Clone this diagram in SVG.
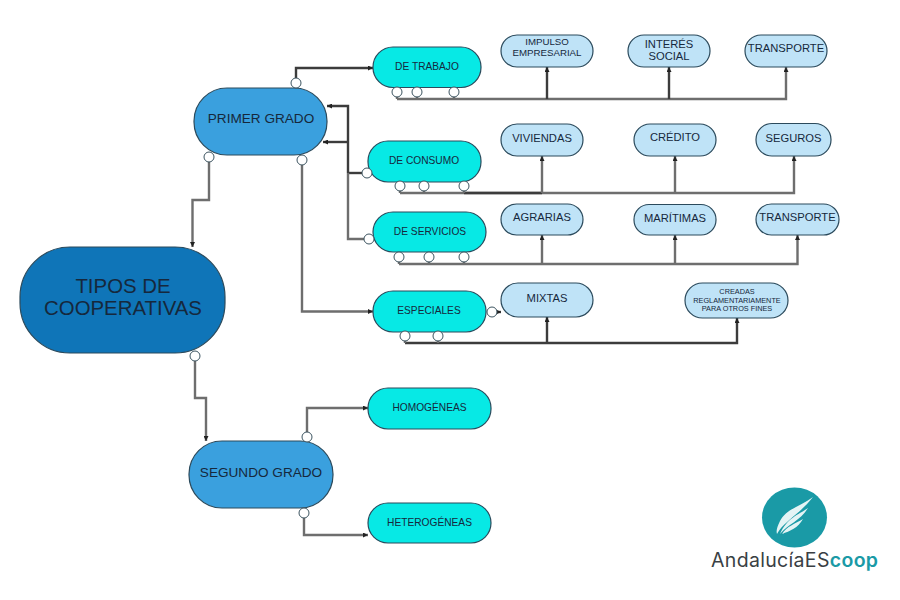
<svg xmlns="http://www.w3.org/2000/svg" width="900" height="600" viewBox="0 0 900 600">
<style>
text{font-family:"Liberation Sans",Arial,sans-serif;text-anchor:middle;fill:#16283c}
.n{stroke:#2b4a5c;stroke-width:1.2}
.root{fill:#0f75b8}
.mid{fill:#3aa0de}
.cy{fill:#07e9e5}
.lt{fill:#bfe3f7}
.c{fill:none;stroke:#6e6e6e;stroke-width:2.4}
.d{stroke:#3c3c3c}
.a{marker-end:url(#ah)}
.p{fill:#fff;stroke:#3c5460;stroke-width:1}
.s10{font-size:10.200px}
.s11{font-size:11.200px}
.logo{text-anchor:start;font-family:Inter,"Open Sans",sans-serif;font-size:19.500px}
.w{fill:#e4f4f5}
</style>
<defs>
<marker id="ah" markerUnits="userSpaceOnUse" markerWidth="6" markerHeight="5" refX="5" refY="2.500" orient="auto"><path d="M0 0L5 2.500L0 5Z" fill="#222"/></marker>
</defs>
<rect width="900" height="600" fill="#fff"/>
<g id="connectors">
<path class="c d a" d="M296 78V68H373"/>
<path class="c a" d="M209 162V200H192.500V247"/>
<path class="c d a" d="M348 173V106H327"/>
<path class="c d a" d="M348 142H323"/>
<path class="c d" d="M362 173H348"/>
<path class="c" d="M364 239H348V173"/>
<path class="c a" d="M302 165V311.500H373"/>
<path class="c a" d="M195 361V398H206V441"/>
<path class="c a" d="M307 432V408H368"/>
<path class="c a" d="M304 518V535H368"/>
<path class="c a" d="M397 99H786V67"/>
<path class="c d a" d="M547 99V67"/>
<path class="c d a" d="M669 99V67"/>
<path class="c" d="M397 92V99M417 92V99M454 92V99"/>
<path class="c a" d="M400 193H794V156"/>
<path class="c d" d="M464 193H542"/>
<path class="c a" d="M542 193V156"/>
<path class="c a" d="M675 193V156"/>
<path class="c" d="M400 186V193M424 186V193M464 186V193"/>
<path class="c a" d="M399 264H797.500V235"/>
<path class="c a" d="M542 264V235"/>
<path class="c a" d="M675 264V235"/>
<path class="c" d="M399 257V264M429 257V264M464 257V264"/>
<path class="c d a" d="M405 343H737V318"/>
<path class="c d a" d="M547 343V317"/>
<path class="c" d="M405 336V343M438 336V343"/>
<path class="c d a" d="M497 312H501"/>
</g>
<g id="tipos"><rect class="n root" x="20" y="247" width="205" height="106" rx="50"/><text x="123" y="293" font-size="20.400">TIPOS DE</text><text x="123" y="315" font-size="20.400">COOPERATIVAS</text><circle class="p" cx="195" cy="356" r="5"/></g>
<g id="primer-grado"><rect class="n mid" x="194" y="88" width="133" height="67" rx="33"/><text x="261" y="123" font-size="13.600">PRIMER GRADO</text><circle class="p" cx="296" cy="83" r="5"/><circle class="p" cx="209" cy="157" r="5"/><circle class="p" cx="302" cy="160" r="5"/></g>
<g id="segundo-grado"><rect class="n mid" x="189" y="441" width="144" height="67" rx="33"/><text x="261" y="477" font-size="13.600">SEGUNDO GRADO</text><circle class="p" cx="307" cy="437" r="5"/><circle class="p" cx="304" cy="513" r="5"/></g>
<g id="de-trabajo"><rect class="n cy" x="373" y="47" width="108" height="40.500" rx="20"/><text class="s10" x="427" y="70">DE TRABAJO</text><circle class="p" cx="397" cy="92" r="5"/><circle class="p" cx="417" cy="92" r="5"/><circle class="p" cx="454" cy="92" r="5"/></g>
<g id="de-consumo"><rect class="n cy" x="368" y="141" width="113" height="41" rx="20"/><text class="s10" x="424" y="164">DE CONSUMO</text><circle class="p" cx="367" cy="173" r="5"/><circle class="p" cx="400" cy="186" r="5"/><circle class="p" cx="424" cy="186" r="5"/><circle class="p" cx="464" cy="186" r="5"/></g>
<g id="de-servicios"><rect class="n cy" x="373" y="212" width="113" height="40" rx="20"/><text class="s10" x="430" y="235">DE SERVICIOS</text><circle class="p" cx="369" cy="239" r="5"/><circle class="p" cx="399" cy="257" r="5"/><circle class="p" cx="429" cy="257" r="5"/><circle class="p" cx="464" cy="257" r="5"/></g>
<g id="especiales"><rect class="n cy" x="373" y="291" width="113" height="41" rx="20"/><text class="s10" x="429" y="314">ESPECIALES</text><circle class="p" cx="492" cy="312" r="5"/><circle class="p" cx="405" cy="336" r="5"/><circle class="p" cx="438" cy="336" r="5"/></g>
<g id="homogeneas"><rect class="n cy" x="368" y="388" width="123" height="41" rx="20"/><text class="s10" x="429.500" y="411">HOMOGÉNEAS</text></g>
<g id="heterogeneas"><rect class="n cy" x="368" y="503" width="123" height="40" rx="20"/><text class="s10" x="429.500" y="526">HETEROGÉNEAS</text></g>
<g id="impulso"><rect class="n lt" x="501" y="35" width="92" height="32" rx="16"/><text x="547" y="45" font-size="9.700">IMPULSO</text><text x="547" y="55.500" font-size="9.700">EMPRESARIAL</text></g>
<g id="interes"><rect class="n lt" x="628" y="35" width="82" height="32" rx="16"/><text class="s11" x="669" y="48">INTERÉS</text><text class="s11" x="669" y="60">SOCIAL</text></g>
<g id="transporte-1"><rect class="n lt" x="745" y="35" width="82" height="32" rx="16"/><text class="s11" x="786" y="52">TRANSPORTE</text></g>
<g id="viviendas"><rect class="n lt" x="501" y="124" width="82" height="32" rx="16"/><text class="s11" x="542" y="142">VIVIENDAS</text></g>
<g id="credito"><rect class="n lt" x="634" y="124" width="82" height="32" rx="16"/><text class="s11" x="675" y="141">CRÉDITO</text></g>
<g id="seguros"><rect class="n lt" x="756" y="123.500" width="75" height="32.500" rx="16"/><text class="s11" x="793.500" y="142">SEGUROS</text></g>
<g id="agrarias"><rect class="n lt" x="501" y="204" width="82" height="31" rx="15.500"/><text class="s11" x="542" y="221">AGRARIAS</text></g>
<g id="maritimas"><rect class="n lt" x="634" y="204.500" width="82" height="30.500" rx="15"/><text class="s11" x="675" y="222">MARÍTIMAS</text></g>
<g id="transporte-2"><rect class="n lt" x="756" y="204" width="83" height="31" rx="15.500"/><text class="s11" x="797.500" y="221">TRANSPORTE</text></g>
<g id="mixtas"><rect class="n lt" x="501" y="283" width="92" height="34" rx="17"/><text class="s11" x="547" y="302">MIXTAS</text></g>
<g id="creadas"><rect class="n lt" x="685" y="283" width="103" height="35" rx="17.500"/><text x="737" y="294" font-size="7.300">CREADAS</text><text x="737" y="302.500" font-size="7.300">REGLAMENTARIAMENTE</text><text x="737" y="311" font-size="7.300">PARA OTROS FINES</text></g>
<g id="logo">
<ellipse cx="794.500" cy="517.500" rx="32.500" ry="30" fill="#1a9aa6"/>
<path class="w" d="M813 497C801 506 786 509 780 521C777 527 776 531 777 534C783 522 800 514 813 497Z"/>
<path class="w" d="M808 508C798 515 787 518 780 534C788 524 800 521 808 508Z"/>
<path class="w" d="M803 519C795 524 787 526 782 534C790 531 798 528 803 519Z"/>
<text class="logo" x="711" y="567" textLength="167" style="fill:#3a3f44">AndalucíaES<tspan style="fill:#1a9aa6;font-weight:600">coop</tspan></text>
</g>
</svg>
